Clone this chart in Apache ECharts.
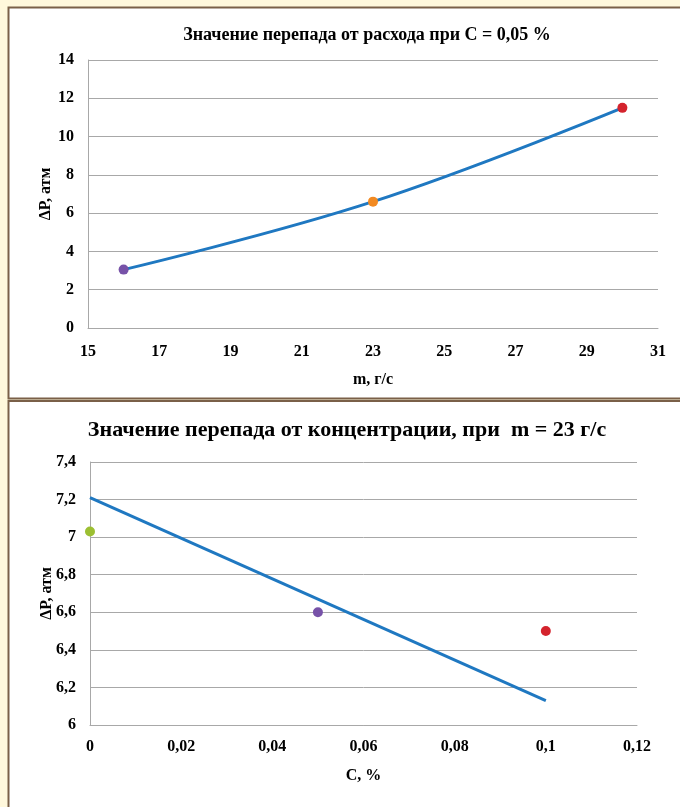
<!DOCTYPE html>
<html>
<head>
<meta charset="utf-8">
<script src="https://cdn.jsdelivr.net/npm/echarts@6/dist/echarts.min.js"></script>
<style>
  html, body { margin: 0; padding: 0; background: #fff8dc; }
  #chart { width: 680px; height: 807px; }
</style>
</head>
<body>
<div id="chart"></div>
<script>
// верхний график: перепад от расхода при C = 0,05 %
var flowM = [16, 23, 30];
var flowDP = [3.05, 6.6, 11.5];
var flowColors = ['#7752a8', '#f28a22', '#d4232d'];

// нижний график: перепад от концентрации при m = 23 г/с
var concC = [0, 0.05, 0.1];
var concDP = [7.03, 6.6, 6.5];
var concColors = ['#9cbf32', '#7752a8', '#d4232d'];
// линия тренда (как нарисована на рисунке)
var trendC = [0, 0.1];
var trendDP = [7.21, 6.13];

var serif = '"Liberation Serif", "Times New Roman", serif';
var gridColor = '#a8a8a8';

function comma(v) {
  return String(v).replace('.', ',');
}

function pairs(xs, ys) {
  var out = [];
  for (var i = 0; i < xs.length; i++) out.push([xs[i], ys[i]]);
  return out;
}

function pointsData(xs, ys, colors) {
  var out = [];
  for (var i = 0; i < xs.length; i++) {
    out.push({ value: [xs[i], ys[i]], itemStyle: { color: colors[i], opacity: 1 } });
  }
  return out;
}

function valueAxis(extra) {
  var base = {
    type: 'value',
    axisLine: { show: true, lineStyle: { color: gridColor, width: 1 } },
    axisTick: { show: false },
    splitLine: { show: true, lineStyle: { color: gridColor, width: 1 } },
    axisLabel: {
      fontFamily: serif, fontWeight: 'bold', fontSize: 16, color: '#000',
      margin: 14, formatter: comma
    },
    nameMoveOverlap: false,
    nameTextStyle: { fontFamily: serif, fontWeight: 'bold', fontSize: 16, color: '#000' }
  };
  for (var k in extra) base[k] = extra[k];
  return base;
}

var myChart = echarts.init(document.getElementById('chart'), null, { renderer: 'canvas' });

var option = {
  backgroundColor: '#fff8dc',
  animation: false,
  graphic: [
    // рамки панелей
    { type: 'rect', shape: { x: 8.5, y: 7.5, width: 680, height: 391 },
      style: { fill: '#fff', stroke: '#7a6048', lineWidth: 2 }, z: -10 },
    { type: 'rect', shape: { x: 8.5, y: 401, width: 680, height: 420 },
      style: { fill: '#fff', stroke: '#7a6048', lineWidth: 2 }, z: -10 }
  ],
  title: [
    {
      text: 'Значение перепада от расхода при С = 0,05 %',
      left: 362, top: 21, textAlign: 'center',
      textStyle: { fontFamily: serif, fontWeight: 'bold', fontSize: 18, color: '#000' }
    },
    {
      text: 'Значение перепада от концентрации, при  m = 23 г/с',
      left: 342, top: 414, textAlign: 'center',
      textStyle: { fontFamily: serif, fontWeight: 'bold', fontSize: 22, color: '#000' }
    }
  ],
  grid: [
    { left: 88, right: 22, top: 60, bottom: 479 },
    { left: 90, right: 43, top: 462, bottom: 82 }
  ],
  xAxis: [
    valueAxis({
      gridIndex: 0, min: 15, max: 31, interval: 2,
      splitLine: { show: false },
      axisLabel: { fontFamily: serif, fontWeight: 'bold', fontSize: 16, color: '#000', margin: 16 },
      name: 'm, г/с', nameLocation: 'middle', nameGap: 44
    }),
    valueAxis({
      gridIndex: 1, min: 0, max: 0.12, interval: 0.02,
      splitLine: { show: false },
      axisLabel: { fontFamily: serif, fontWeight: 'bold', fontSize: 16, color: '#000', margin: 14, formatter: comma },
      name: 'С, %', nameLocation: 'middle', nameGap: 43
    })
  ],
  yAxis: [
    valueAxis({
      gridIndex: 0, min: 0, max: 14, interval: 2,
      name: 'ΔP, атм', nameLocation: 'middle', nameGap: 34
    }),
    valueAxis({
      gridIndex: 1, min: 6, max: 7.4, interval: 0.2,
      name: 'ΔP, атм', nameLocation: 'middle', nameGap: 35
    })
  ],
  series: [
    {
      name: 'тренд1', type: 'line', xAxisIndex: 0, yAxisIndex: 0,
      data: pairs(flowM, flowDP), smooth: 0.4, showSymbol: false,
      lineStyle: { color: '#1f78c1', width: 3 }, z: 2
    },
    {
      name: 'точки1', type: 'scatter', xAxisIndex: 0, yAxisIndex: 0,
      data: pointsData(flowM, flowDP, flowColors), symbolSize: 10, z: 3
    },
    {
      name: 'тренд2', type: 'line', xAxisIndex: 1, yAxisIndex: 1,
      data: pairs(trendC, trendDP), showSymbol: false,
      lineStyle: { color: '#1f78c1', width: 3 }, z: 2
    },
    {
      name: 'точки2', type: 'scatter', xAxisIndex: 1, yAxisIndex: 1,
      data: pointsData(concC, concDP, concColors), symbolSize: 10, z: 3
    }
  ]
};

myChart.setOption(option);
</script>
</body>
</html>
